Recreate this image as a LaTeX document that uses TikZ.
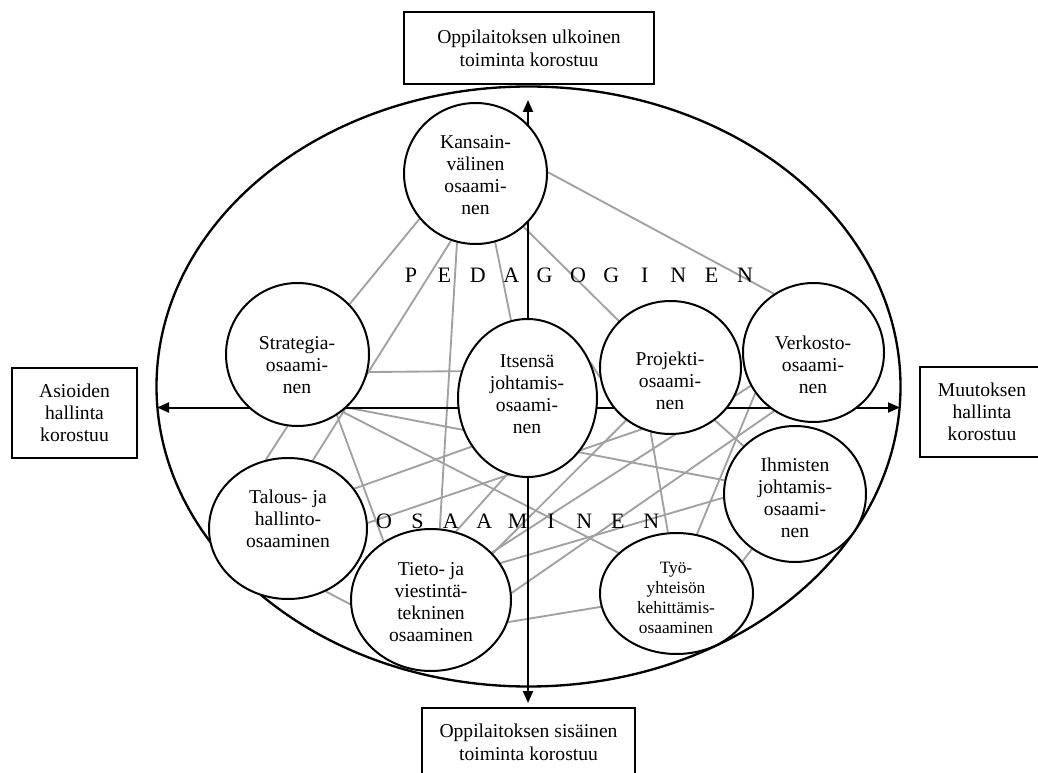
\documentclass[tikz,border=0pt]{standalone}
\usepackage{fontspec}
\setmainfont{Liberation Serif}
\usetikzlibrary{shapes.geometric,arrows.meta,calc}
\pgfdeclarelayer{bg}
\pgfsetlayers{bg,main}
\begin{document}
\begin{tikzpicture}[x=0.75pt,y=-0.75pt,
  comp/.style={draw, ellipse, line width=1.5pt, fill=white, inner sep=0pt},
  ctext/.style={align=center, font=\fontsize{14.7}{16.5}\selectfont, inner sep=0pt},
  stext/.style={align=center, font=\fontsize{13}{15}\selectfont, inner sep=0pt},
  box/.style={draw, line width=1.5pt, fill=white, align=center, font=\fontsize{14.7}{17.5}\selectfont, inner sep=0pt},
  link/.style={draw=black!37, line width=1.4pt},
  axis/.style={line width=1.5pt, {Triangle[length=9pt,width=7.5pt]}-{Triangle[length=9pt,width=7.5pt]}},
  spaced/.style={font=\fontsize{16.5}{16.5}\selectfont, anchor=base, inner sep=0pt}
]
\useasboundingbox (0,0) rectangle (1038,773);

% competence circles
\node[comp, minimum width=107.25pt, minimum height=105.75pt] (K)  at (475.5,173.5) {};
\node[comp, minimum width=107.25pt, minimum height=107.25pt] (S)  at (297.5,354.5) {};
\node[comp, minimum width=104.25pt, minimum height=118.5pt]  (I)  at (527.5,398) {};
\node[comp, minimum width=105.75pt, minimum height=99.75pt]  (P)  at (670.5,367.5) {};
\node[comp, minimum width=105.75pt, minimum height=104.25pt] (V)  at (813.5,352.5) {};
\node[comp, minimum width=106.5pt,  minimum height=102pt]    (H)  at (795,494) {};
\node[comp, minimum width=118.5pt,  minimum height=105.75pt] (T)  at (288,528.5) {};
\node[comp, minimum width=120pt,    minimum height=106.5pt]  (Ti) at (431,600) {};
\node[comp, minimum width=114.75pt, minimum height=90.75pt]  (Ty) at (676.5,593.5) {};

% texts of the circles
\node[ctext] (Kt)  at (475.5,175) {Kansain-\\välinen\\osaami-\\nen};
\node[ctext] (St)  at (297,365)   {Strategia-\\osaami-\\nen};
\node[ctext] (It)  at (527,394)   {Itsensä\\johtamis-\\osaami-\\nen};
\node[ctext] (Pt)  at (670,381)   {Projekti-\\osaami-\\nen};
\node[ctext] (Vt)  at (813,365)   {Verkosto-\\osaami-\\nen};
\node[ctext] (Ht)  at (795,498)   {Ihmisten\\johtamis-\\osaami-\\nen};
\node[ctext] (Tt)  at (288,519)   {Talous- ja\\hallinto-\\osaaminen};
\node[ctext] (Tit) at (431,602)   {Tieto- ja\\viestintä-\\tekninen\\osaaminen};
\node[stext] (Tyt) at (676,598)   {Työ-\\yhteisön\\kehittämis-\\osaaminen};

% spaced words
\foreach \l [count=\i from 0] in {P,E,D,A,G,O,G,I,N,E,N}
  \node[spaced] (ped\i) at ({411+33.4*\i},283) {\l};
\foreach \l [count=\i from 0] in {O,S,A,A,M,I,N,E,N}
  \node[spaced] (osa\i) at ({384+33.4*\i},528) {\l};

% outer boxes
\node[box, minimum width=187.5pt, minimum height=54pt] (top) at (529,48)
  {Oppilaitoksen ulkoinen\\toiminta korostuu};
\node[box, minimum width=159.75pt, minimum height=51pt, anchor=north] (bottom) at (528.5,707)
  {Oppilaitoksen sisäinen\\toiminta korostuu};
\node[box, minimum width=93.75pt, minimum height=67.5pt, font=\fontsize{14.7}{16.5}\selectfont] (left) at (74.5,413)
  {Asioiden\\hallinta\\korostuu};
\node[box, minimum width=93pt, minimum height=67.5pt, font=\fontsize{14.7}{16.5}\selectfont] (right) at (982,412)
  {Muutoksen\\hallinta\\korostuu};

\coordinate (vt) at (528,100);
\coordinate (vb) at (528,703);
\coordinate (hl) at (157,407.5);
\coordinate (hr) at (900,407.5);

\begin{pgfonlayer}{bg}
\node[draw, ellipse, line width=1.75pt, minimum width=558pt, minimum height=450pt, inner sep=0pt] (frame) at (528.5,386.5) {};
% links
\draw[link] (K.219) -- (S.44);
\draw[link] (K.250) -- (T.70.6);
\draw[link] (K.255) -- (Ti.83);
\draw[link] (K.286) -- (I.102);
\draw[link] (K.312) -- (P.138);
\draw[link] (K.1) -- (V.124);
\draw[link] (S.346) -- (I.158);
\draw[link] (S.313) -- (H.169);
\draw[link] (S.308) -- (Ty.145);
\draw[link] (S.303) -- (Ti.129);
\draw[link] (S.262) -- (T.108);
\draw[link] (T.31) -- (I.221);
\draw[link] (T.4) -- (P.245);
\draw[link] (T.301) -- (Ti.183);
\draw[link] (Ti.70) -- (I.255);
\draw[link] (Ti.37) -- (P.230);
\draw[link] (Ti.38) -- (V.208);
\draw[link] (Ti.28) -- (H.183);
\draw[link] (Ti.5) -- (V.236);
\draw[link] (Ti.344) -- (Ty.190);
\draw[link] (P.253) -- (Ty.98);
\draw[link] (P.310) -- (H.137);
\draw[link] (Ty.71) -- (V.215);
\draw[link] (Ty.26) -- (H.232);
\draw[link] (I.29) -- (P.188);
% axes
\draw[axis] (vb) -- (vt);
\draw[axis] (hl) -- (hr);
\end{pgfonlayer}
\end{tikzpicture}
\end{document}
